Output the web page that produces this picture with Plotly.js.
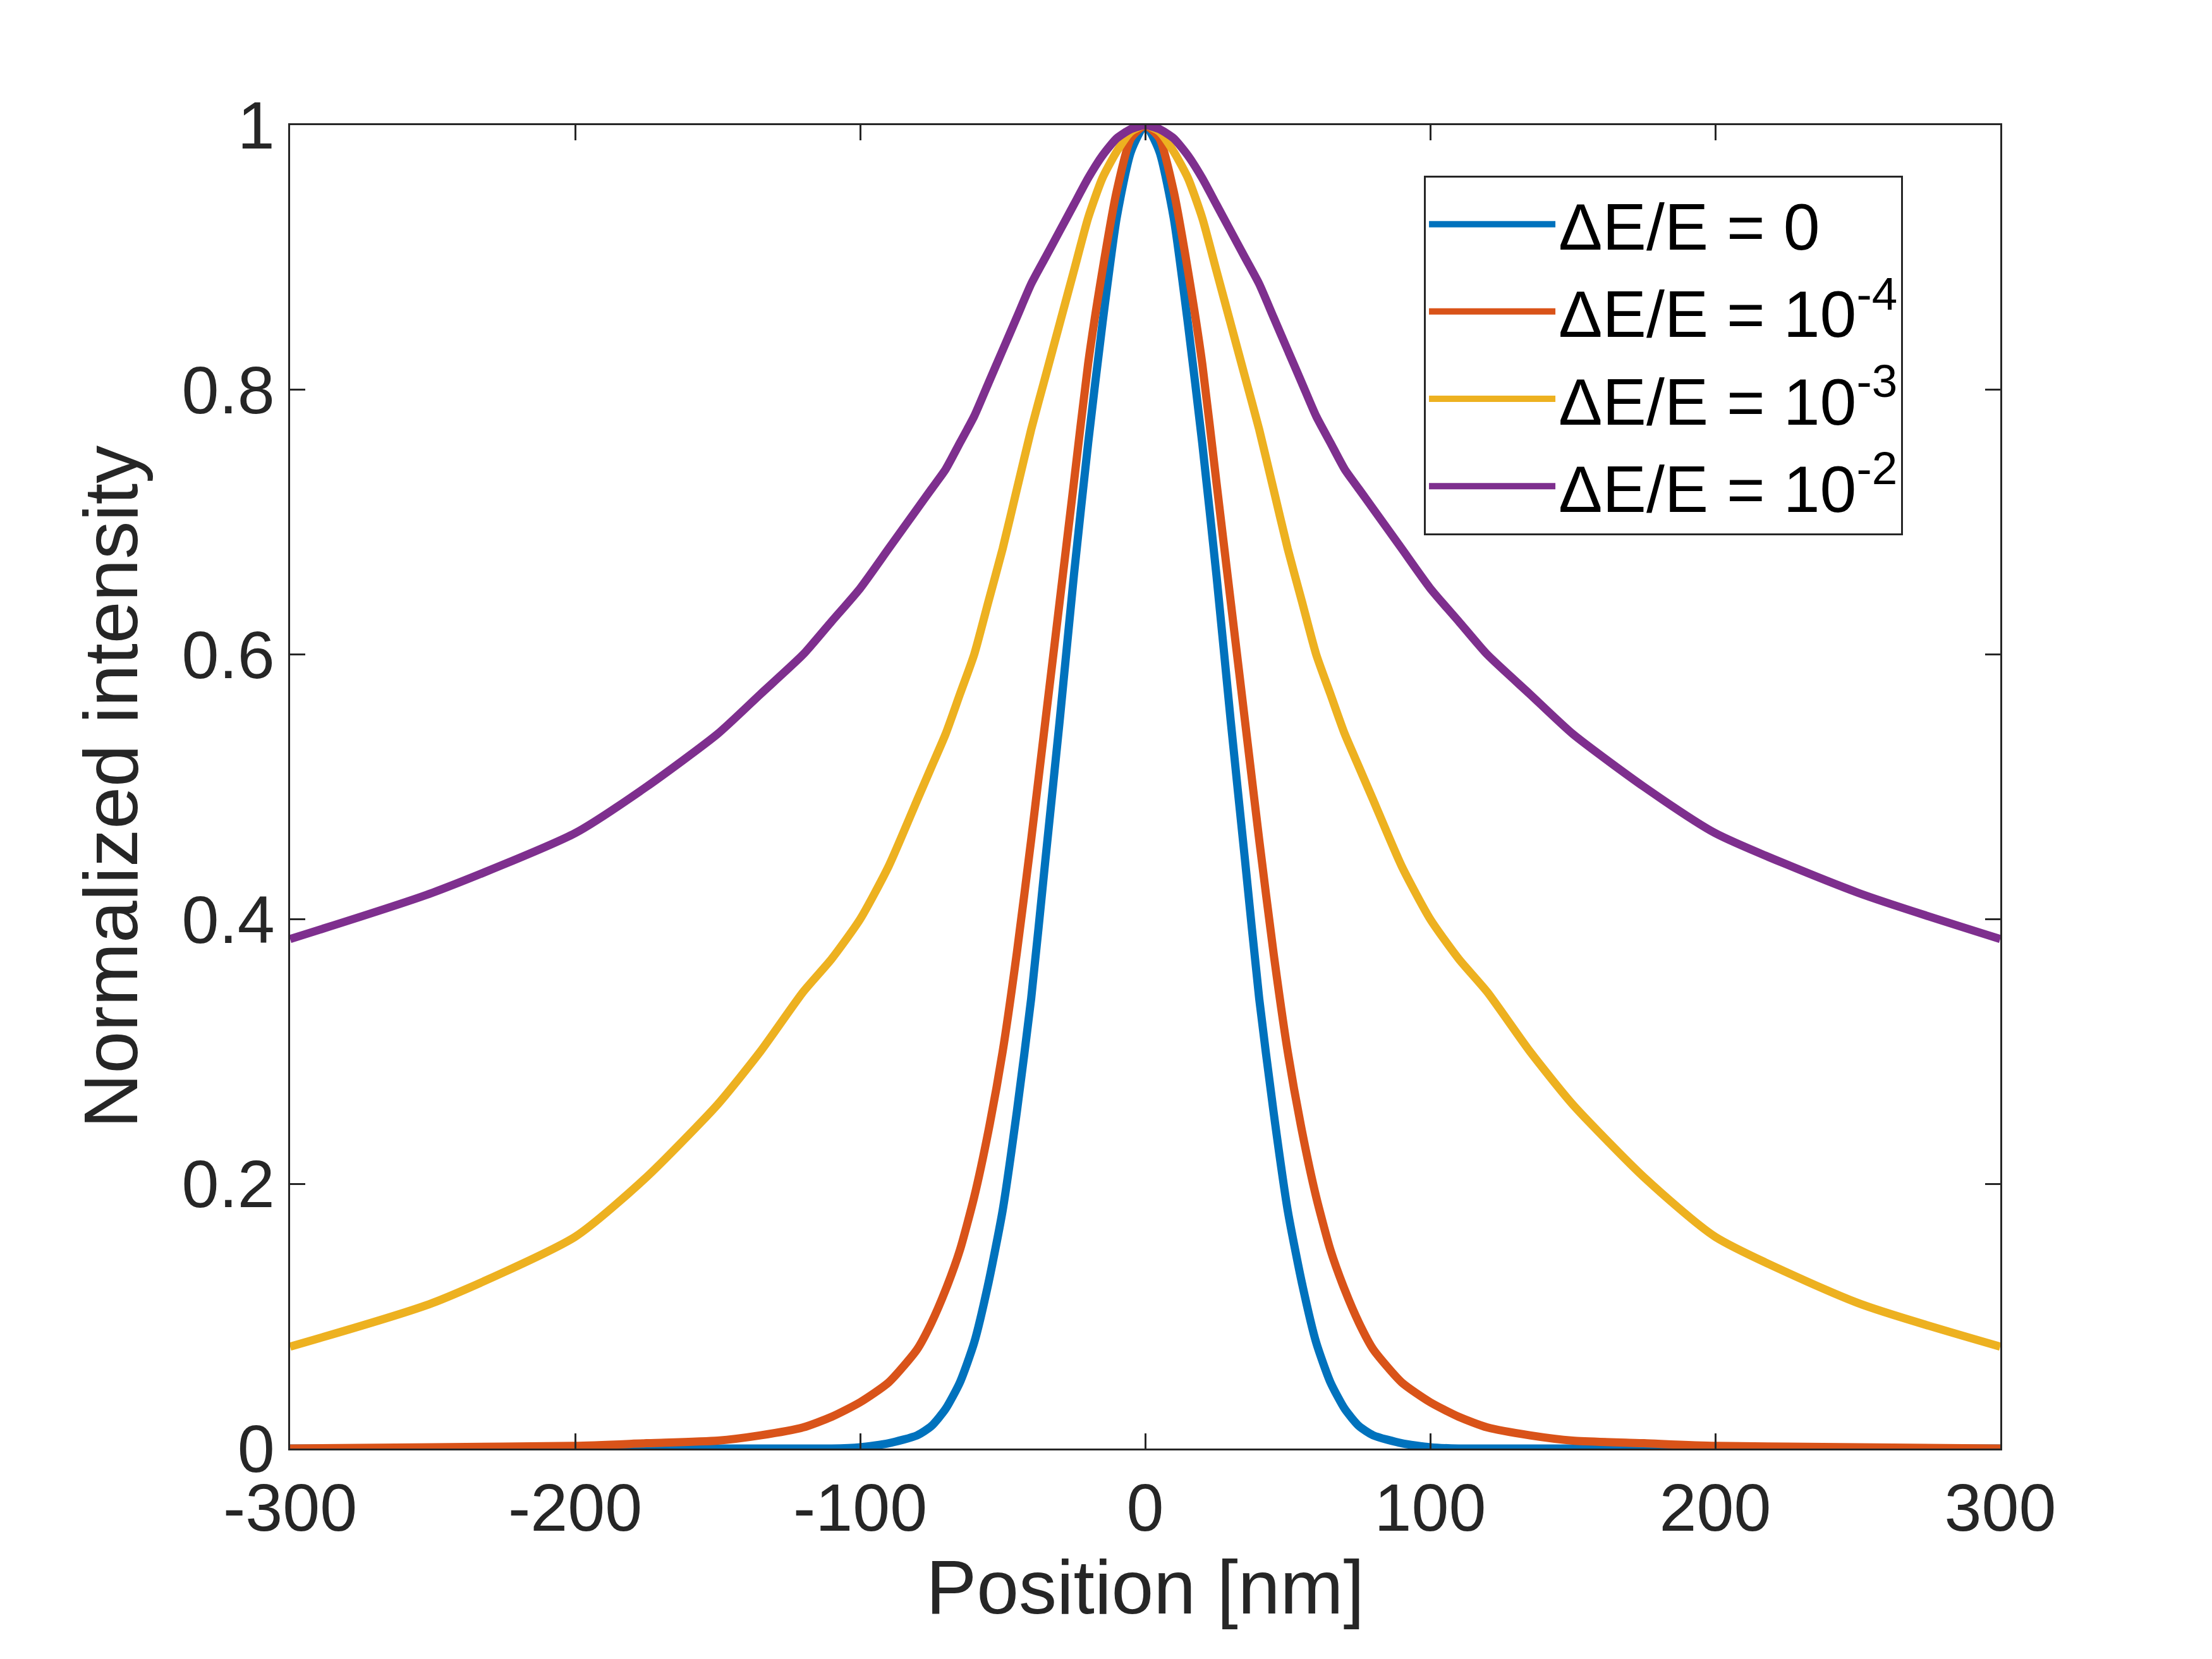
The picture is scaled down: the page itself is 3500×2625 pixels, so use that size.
<!DOCTYPE html>
<html><head><meta charset="utf-8">
<script src="https://cdn.plot.ly/plotly-3.0.1.min.js"></script>
<style>body{margin:0;background:#fff}#plot{width:3500px;height:2625px}</style>
</head><body><div id="plot"></div>
<script>
// half-profiles (symmetric about 0)
const xs = [0, 5, 10, 15, 20, 25, 30, 35, 40, 45, 50, 55, 60, 65, 70, 75, 80, 90, 100, 110, 120, 135, 150, 175, 200, 250, 300];
const blue   = [1, 0.98, 0.93, 0.85, 0.76, 0.66, 0.55, 0.445, 0.34, 0.255, 0.18, 0.125, 0.08, 0.05, 0.03, 0.017, 0.01, 0.004, 0.001, 0, 0, 0, 0, 0, 0, 0, 0];
const red    = [1, 0.99, 0.95, 0.89, 0.82, 0.73, 0.64, 0.55, 0.46, 0.375, 0.30, 0.24, 0.19, 0.15, 0.12, 0.095, 0.075, 0.05, 0.035, 0.024, 0.016, 0.01, 0.006, 0.004, 0.002, 0.001, 0];
const yellow = [1, 0.995, 0.98, 0.96, 0.93, 0.89, 0.85, 0.81, 0.77, 0.725, 0.68, 0.64, 0.60, 0.57, 0.54, 0.515, 0.49, 0.44, 0.40, 0.37, 0.345, 0.30, 0.26, 0.205, 0.16, 0.11, 0.077];
const purple = [1, 0.997, 0.99, 0.977, 0.96, 0.94, 0.92, 0.90, 0.88, 0.855, 0.83, 0.805, 0.78, 0.76, 0.74, 0.725, 0.71, 0.68, 0.65, 0.625, 0.60, 0.57, 0.54, 0.50, 0.465, 0.42, 0.385];
const names = ["ΔE/E = 0", "ΔE/E = 10<sup>-4</sup>", "ΔE/E = 10<sup>-3</sup>", "ΔE/E = 10<sup>-2</sup>"];
const colors = ["#0072BD", "#D95319", "#EDB120", "#7E2F8E"];
const xTicks = [-300, -200, -100, 0, 100, 200, 300];
const yTicks = [0, 0.2, 0.4, 0.6, 0.8, 1];

function mirror(v) { return v.slice(1).reverse().concat(v); }
const xAll = xs.slice(1).reverse().map(v => -v).concat(xs);

const data = [blue, red, yellow, purple].map((y, i) => ({
  type: "scatter", mode: "lines", x: xAll, y: mirror(y), name: names[i],
  line: { color: colors[i], width: 13, shape: "spline", smoothing: 0.6 }
}));

const axis = {
  showline: true, mirror: "ticks", linecolor: "#262626", linewidth: 3,
  ticks: "inside", ticklen: 24, tickwidth: 3, tickcolor: "#262626",
  showgrid: false, zeroline: false, tickfont: { size: 106, color: "#262626" }
};

Plotly.newPlot("plot", data, {
  width: 3500, height: 2625,
  paper_bgcolor: "#fff", plot_bgcolor: "#fff",
  font: { family: "Liberation Sans, Arial, sans-serif", color: "#262626" },
  margin: { l: 459, r: 335, t: 198, b: 333 },
  showlegend: true,
  legend: { x: 0.663, y: 0.962, xanchor: "left", yanchor: "top", bordercolor: "#262626", borderwidth: 3,
            bgcolor: "#fff", font: { size: 104, color: "#000" }, itemwidth: 200, tracegroupgap: 0 },
  xaxis: Object.assign({}, axis, { range: [-300, 300], tickvals: xTicks, ticktext: xTicks.map(String),
            title: { text: "Position [nm]", font: { size: 120 }, standoff: 20 } }),
  yaxis: Object.assign({}, axis, { range: [0, 1], tickvals: yTicks, ticktext: yTicks.map(String),
            title: { text: "Normalized intensity", font: { size: 120 }, standoff: 30 } })
}, { displayModeBar: false });
</script></body></html>
